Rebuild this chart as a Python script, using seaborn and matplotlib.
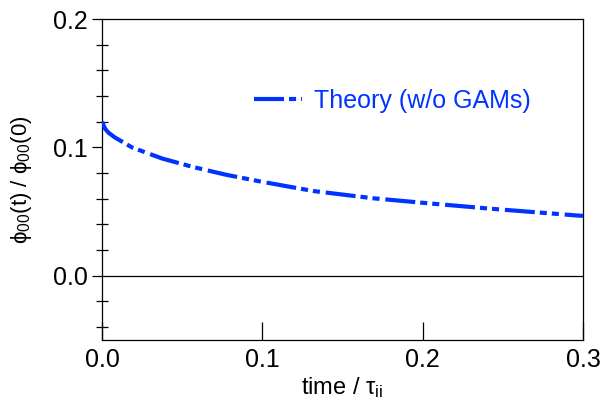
import numpy as np
import pandas as pd
import matplotlib
matplotlib.use("Agg")
import matplotlib.pyplot as plt
import seaborn as sns
from matplotlib.ticker import FixedLocator

# data
time = [0.0, 0.002, 0.004, 0.008, 0.0187, 0.0374, 0.056, 0.077, 0.0986,
        0.132, 0.169, 0.206, 0.244, 0.296, 0.3]
phi_ratio = [0.120, 0.1145, 0.1115, 0.1078, 0.1000, 0.0914, 0.0850, 0.0788, 0.0735,
             0.0660, 0.0604, 0.0562, 0.0521, 0.0470, 0.0467]
series_label = "Theory (w/o GAMs)"
xticks = [0.0, 0.1, 0.2, 0.3]
yticks = [0.0, 0.1, 0.2]

sns.set_theme(style="white")
plt.rcParams['font.family'] = ['Liberation Sans', 'DejaVu Sans']
plt.rcParams['mathtext.default'] = 'regular'
plt.rcParams['text.color'] = 'black'
plt.rcParams['axes.labelcolor'] = 'black'

blue = '#0033ff'
df = pd.DataFrame({'time': time, 'phi': phi_ratio, 'label': series_label})

fig = plt.figure(figsize=(6.02, 4.07), dpi=100)
ax = fig.add_axes([0.1694, 0.1646, 0.799, 0.7887])

ax.axhline(0, color='black', lw=0.9, zorder=1)
sns.lineplot(data=df, x='time', y='phi', ax=ax, color=blue, lw=3.0,
             label=series_label, zorder=3)
ax.lines[-1].set_dashes([7.2, 1.2, 1.7, 1.2, 1.7, 1.4])
ax.lines[-1].set_dash_capstyle('butt')

ax.set_xlim(0, 0.3)
ax.set_ylim(-0.05, 0.2)
ax.set_xticks(xticks)
ax.set_xticklabels(['0.0', '0.1', '0.2', '0.3'])
ax.set_yticks(yticks)
ax.set_yticklabels(['0.0', '0.1', '0.2'])
ax.yaxis.set_minor_locator(FixedLocator([v for v in np.arange(-0.04, 0.2, 0.02)
                                         if abs(round(v / 0.1) * 0.1 - v) > 1e-6]))

ax.tick_params(axis='x', which='major', direction='in', length=13, width=0.9,
               color='black', labelcolor='black', labelsize=18, pad=6, bottom=True)
ax.tick_params(axis='y', which='major', direction='out', length=7, width=0.9,
               color='black', labelcolor='black', labelsize=18, pad=3, left=True)
ax.tick_params(axis='y', which='minor', direction='inout', length=8, width=0.9,
               color='black', left=True)

for sp in ax.spines.values():
    sp.set_color('black')
    sp.set_linewidth(0.9)

ax.set_xlabel(r'time / $\tau_{ii}$', fontsize=17, labelpad=2, color='black')
ax.set_ylabel(r'$\phi_{00}$(t) / $\phi_{00}$(0)', fontsize=16, labelpad=14, color='black')

leg = ax.legend(loc='center left', bbox_to_anchor=(0.27, 0.745), frameon=False,
                fontsize=18, handlelength=1.9, handletextpad=0.5, labelcolor=blue)

fig.savefig('out.png', dpi=100)
